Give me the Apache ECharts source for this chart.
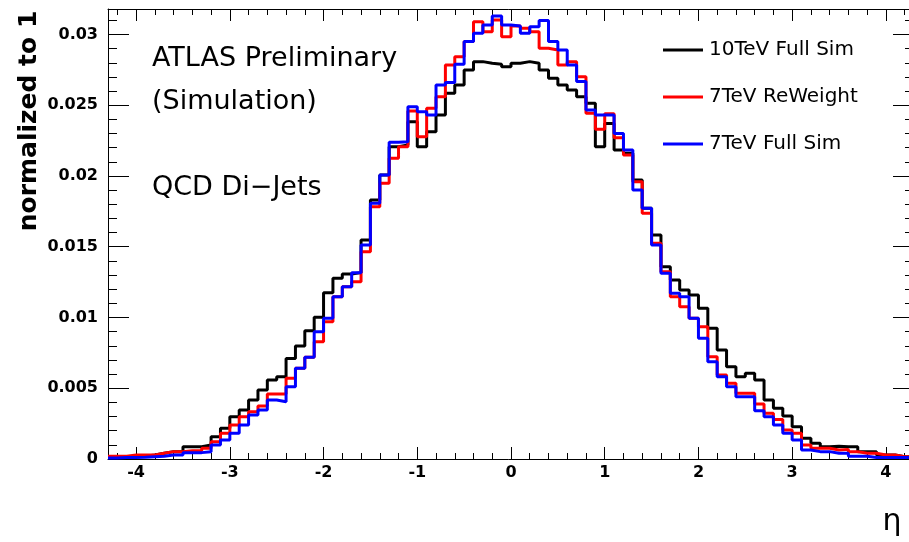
<!DOCTYPE html>
<html>
<head>
<meta charset="utf-8">
<script src="https://cdn.jsdelivr.net/npm/echarts@6/dist/echarts.min.js"></script>
<style>
html, body { margin: 0; padding: 0; background: #fff; }
#chart { width: 909px; height: 542px; }
</style>
</head>
<body>
<div id="chart"></div>
<script>
// eta binning: 86 bins of 0.1 between -4.3 and 4.3
var etaMin = -4.3, etaMax = 4.3, binWidth = 0.1;
var yMax = 0.0318;
var xTickLabels = [-4, -3, -2, -1, 0, 1, 2, 3, 4];
var yTickLabels = [0, 0.005, 0.01, 0.015, 0.02, 0.025, 0.03];
var seriesNames = ['10TeV Full Sim', '7TeV ReWeight', '7TeV Full Sim'];
var seriesColors = ['#000000', '#ff0000', '#0000ff'];

var full10 = [
    0.0001, 0.00012, 0.00016, 0.0002, 0.00028, 0.0004, 0.00052, 0.00052, 0.00087, 0.00087,
    0.00099, 0.00158, 0.00217, 0.00299, 0.00346, 0.00417, 0.00487, 0.00558, 0.00582, 0.00711,
    0.00799, 0.00907, 0.01001, 0.01175, 0.01277, 0.01307, 0.01317, 0.01548, 0.0183, 0.02007,
    0.02207, 0.02219, 0.02384, 0.02207, 0.02313, 0.02431, 0.02584, 0.02643, 0.02749, 0.02808,
    0.02796, 0.0279, 0.02772, 0.02796, 0.02808, 0.02796, 0.02749, 0.0269, 0.02643, 0.02608,
    0.0256, 0.02514, 0.02207, 0.0237, 0.02184, 0.0216, 0.01972, 0.01772, 0.01583, 0.01359,
    0.01265, 0.01194, 0.01159, 0.01065, 0.00924, 0.0077, 0.00652, 0.00582, 0.00606, 0.00558,
    0.00417, 0.00358, 0.00304, 0.00228, 0.00146, 0.00111, 0.00087, 0.0009, 0.00087, 0.00087,
    0.00052, 0.00052, 0.00028, 0.00028, 0.00016, 0.00016
];
var reweight7 = [
    0.0002, 0.0002, 0.00028, 0.00028, 0.00028, 0.0004, 0.00052, 0.00052, 0.00059, 0.00059,
    0.00076, 0.00122, 0.00182, 0.0024, 0.00299, 0.00334, 0.00375, 0.00459, 0.00459, 0.0057,
    0.00641, 0.00719, 0.00829, 0.0097, 0.01147, 0.01218, 0.01253, 0.01465, 0.01783, 0.01948,
    0.02125, 0.02207, 0.0246, 0.02278, 0.02478, 0.0256, 0.02784, 0.02843, 0.0295, 0.0309,
    0.0302, 0.03102, 0.02984, 0.0306, 0.03044, 0.0302, 0.02902, 0.0289, 0.02784, 0.02808,
    0.02702, 0.02443, 0.0233, 0.0244, 0.0227, 0.02148, 0.0196, 0.01736, 0.01524, 0.01324,
    0.01147, 0.01076, 0.00994, 0.00935, 0.00723, 0.00594, 0.00535, 0.00464, 0.00464, 0.00389,
    0.00323, 0.0028, 0.00205, 0.00182, 0.00099, 0.00076, 0.00076, 0.00064, 0.00068, 0.00052,
    0.0004, 0.0004, 0.00028, 0.00028, 0.00016, 0.00016
];
var full7 = [
    0.00007, 0.0001, 0.0001, 0.00012, 0.00016, 0.0002, 0.00028, 0.00028, 0.00045, 0.00045,
    0.00052, 0.00099, 0.00134, 0.00182, 0.0024, 0.00311, 0.00346, 0.00417, 0.00405, 0.00511,
    0.00641, 0.00719, 0.009, 0.00994, 0.01147, 0.01218, 0.01317, 0.01512, 0.01807, 0.02007,
    0.02238, 0.02242, 0.0249, 0.02454, 0.02431, 0.02643, 0.0266, 0.0279, 0.0295, 0.03008,
    0.03067, 0.03131, 0.03067, 0.0306, 0.03008, 0.03055, 0.03098, 0.0295, 0.0289, 0.02784,
    0.02667, 0.02467, 0.02431, 0.02431, 0.0230, 0.02184, 0.01901, 0.01772, 0.01512, 0.01312,
    0.01171, 0.01147, 0.00994, 0.00853, 0.00688, 0.00582, 0.00511, 0.0044, 0.0044, 0.00341,
    0.00299, 0.0024, 0.00182, 0.00134, 0.00064, 0.00052, 0.00052, 0.0004, 0.0004, 0.0002,
    0.0002, 0.0001, 0.0001, 0.0001, 0.0001, 0.0001
];

// histogram outline: one point per low bin edge, plus the closing edge
function stepData(values) {
    var pts = [];
    for (var i = 0; i < values.length; i++) {
        pts.push([+(etaMin + i * binWidth).toFixed(2), values[i]]);
    }
    pts.push([etaMax, values[values.length - 1]]);
    return pts;
}

// minor tick positions (ROOT style: 5 divisions per major)
var xMinorTicks = [];
for (var k = -21; k <= 21; k++) { if (k % 5 !== 0) xMinorTicks.push(+(k * 0.2).toFixed(1)); }
var yMinorTicks = [];
for (var j = 1; j <= 31; j++) { if (j % 5 !== 0) yMinorTicks.push(+(j * 0.001).toFixed(3)); }

var tickFont = { fontFamily: 'DejaVu Sans', fontWeight: 'bold', fontSize: 16, color: '#000' };

function xAxisDef(pos, ticks, len, showLine, labels) {
    return {
        type: 'value', position: pos, min: etaMin, max: etaMax,
        axisLine: { show: showLine, onZero: false, lineStyle: { color: '#000', width: 1 } },
        axisTick: { show: true, inside: true, length: len, customValues: ticks, lineStyle: { color: '#000', width: 1 } },
        axisLabel: labels ? Object.assign({ show: true, margin: 6, customValues: labels }, tickFont) : { show: false },
        splitLine: { show: false }
    };
}

function yAxisDef(pos, ticks, len, showLine, labels) {
    return {
        type: 'value', position: pos, min: 0, max: yMax,
        axisLine: { show: showLine, onZero: false, lineStyle: { color: '#000', width: 1 } },
        axisTick: { show: true, inside: true, length: len, customValues: ticks, lineStyle: { color: '#000', width: 1 } },
        axisLabel: labels ? Object.assign({ show: true, margin: 10, customValues: labels }, tickFont) : { show: false },
        splitLine: { show: false }
    };
}

var histos = [full10, reweight7, full7];

var chart = echarts.init(document.getElementById('chart'));
chart.setOption({
    animation: false,
    backgroundColor: '#fff',
    grid: { left: 108, top: 9, width: 806, height: 450, outerBoundsMode: 'none' },
    xAxis: [
        xAxisDef('bottom', xTickLabels, 12, true, xTickLabels),
        xAxisDef('bottom', xMinorTicks, 6, false, null),
        xAxisDef('top', xTickLabels, 12, true, null),
        xAxisDef('top', xMinorTicks, 6, false, null)
    ],
    yAxis: [
        yAxisDef('left', yTickLabels, 21, true, yTickLabels),
        yAxisDef('left', yMinorTicks, 9, false, null),
        yAxisDef('right', yTickLabels, 21, true, null),
        yAxisDef('right', yMinorTicks, 9, false, null)
    ],
    legend: {
        orient: 'vertical',
        left: 658,
        top: 35,
        itemWidth: 40,
        itemHeight: 20,
        itemGap: 27,
        icon: 'path://M0,9 L40,9 L40,12 L0,12 Z',
        textStyle: { fontFamily: 'DejaVu Sans', fontSize: 20, color: '#000', lineHeight: 20, padding: [0, 0, 0, 1] },
        data: seriesNames
    },
    series: histos.map(function (vals, i) {
        return {
            name: seriesNames[i],
            type: 'line',
            step: 'end',
            symbol: 'none',
            xAxisIndex: 0,
            yAxisIndex: 0,
            z: 2 + i,
            color: seriesColors[i],
            lineStyle: { color: seriesColors[i], width: 3 },
            data: stepData(vals)
        };
    }),
    graphic: [
        { type: 'text', x: 152, y: 59, style: { text: 'ATLAS Preliminary', font: '27px "DejaVu Sans"', fill: '#000', verticalAlign: 'middle' } },
        { type: 'text', x: 152, y: 102, style: { text: '(Simulation)', font: '27px "DejaVu Sans"', fill: '#000', verticalAlign: 'middle' } },
        { type: 'text', x: 152, y: 188, style: { text: 'QCD Di\u2212Jets', font: '27px "DejaVu Sans"', fill: '#000', verticalAlign: 'middle' } },
        { type: 'text', x: 29, y: 121, rotation: Math.PI / 2, style: { text: 'normalized to 1', font: 'bold 25px "DejaVu Sans"', fill: '#000', align: 'center', verticalAlign: 'middle' } },
        { type: 'text', x: 892, y: 522, style: { text: '\u03b7', font: '30px "DejaVu Sans"', fill: '#000', align: 'center', verticalAlign: 'middle' } }
    ]
});
</script>
</body>
</html>
